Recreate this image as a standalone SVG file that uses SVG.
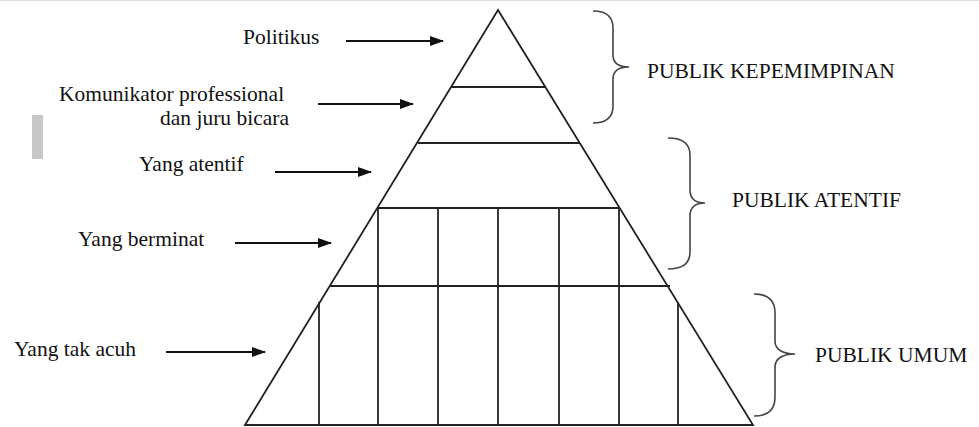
<svg xmlns="http://www.w3.org/2000/svg" width="979" height="427" viewBox="0 0 979 427">
<defs>
<marker id="ah" markerWidth="14" markerHeight="10" refX="13" refY="5" orient="auto" markerUnits="userSpaceOnUse">
<path d="M0,0 L14,5 L0,10 Z" fill="#111"/>
</marker>
<style>
.ln{stroke:#222;stroke-width:1.8;fill:none}
.ar{stroke:#111;stroke-width:1.8;fill:none;marker-end:url(#ah)}
.br{stroke:#444;stroke-width:1.6;fill:none}
</style>
</defs>
<rect width="979" height="427" fill="#fff"/>
<line x1="0" y1="0.5" x2="979" y2="0.5" stroke="#ddd" stroke-width="1"/>
<rect x="32" y="115" width="11" height="44" fill="#c8c8c8"/>

<g id="pyramid">
<path class="ln" d="M245,425 L498,10 L753,425 Z"/>
<line class="ln" x1="451" y1="87" x2="546" y2="87"/>
<line class="ln" x1="418" y1="143" x2="580" y2="143"/>
<line class="ln" x1="378" y1="208" x2="619" y2="208"/>
<line class="ln" x1="330" y1="286" x2="670" y2="286"/>
<line class="ln" x1="378" y1="208" x2="378" y2="425"/>
<line class="ln" x1="438" y1="208" x2="438" y2="425"/>
<line class="ln" x1="498" y1="208" x2="498" y2="425"/>
<line class="ln" x1="559" y1="208" x2="559" y2="425"/>
<line class="ln" x1="619" y1="208" x2="619" y2="425"/>
<line class="ln" x1="319" y1="302" x2="319" y2="425"/>
<line class="ln" x1="678" y1="302" x2="678" y2="425"/>
</g>

<g id="label-politikus"><text x="243" y="44" font-family="Liberation Serif" font-size="21.5" fill="#111">Politikus</text></g>
<g id="label-komunikator">
<text x="59" y="101" font-family="Liberation Serif" font-size="21.5" fill="#111">Komunikator professional</text>
<text x="289" y="125" text-anchor="end" font-family="Liberation Serif" font-size="21.5" fill="#111">dan juru bicara</text>
</g>
<g id="label-atentif"><text x="139" y="171" font-family="Liberation Serif" font-size="21.5" fill="#111">Yang atentif</text></g>
<g id="label-berminat"><text x="78" y="246" font-family="Liberation Serif" font-size="21.5" fill="#111">Yang berminat</text></g>
<g id="label-takacuh"><text x="14" y="356" font-family="Liberation Serif" font-size="21.5" fill="#111">Yang tak acuh</text></g>

<g id="group-kepemimpinan">
<path class="br" d="M593,11 C606,11 613,16 613,28 L613,55 C613,63 618,67 629,67 C618,67 613,71 613,79 L613,106 C613,118 606,123 593,123"/>
<text x="647" y="78" font-family="Liberation Serif" font-size="21.5" fill="#111">PUBLIK KEPEMIMPINAN</text>
</g>
<g id="group-atentif">
<path class="br" d="M668,138 C682,138 690,143 690,155 L690,190 C690,198 695,203 705,203 C695,203 690,208 690,216 L690,252 C690,264 682,269 668,269"/>
<text x="732" y="207" font-family="Liberation Serif" font-size="21.5" fill="#111">PUBLIK ATENTIF</text>
</g>
<g id="group-umum">
<path class="br" d="M754,294 C768,294 775,300 775,313 L775,341 C775,349 782,354 795,354 C782,354 775,359 775,367 L775,397 C775,410 768,416 754,416"/>
<text x="815" y="362" font-family="Liberation Serif" font-size="21.5" fill="#111">PUBLIK UMUM</text>
</g>

<g id="connectors">
<line class="ar" x1="346" y1="41" x2="443" y2="41"/>
<line class="ar" x1="318" y1="104" x2="413" y2="104"/>
<line class="ar" x1="275" y1="172" x2="371" y2="172"/>
<line class="ar" x1="235" y1="243" x2="331" y2="243"/>
<line class="ar" x1="166" y1="352" x2="265" y2="352"/>
</g>
</svg>
